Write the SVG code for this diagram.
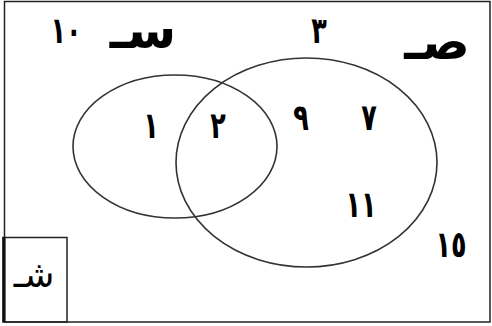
<svg xmlns="http://www.w3.org/2000/svg" width="492" height="326" viewBox="0 0 492 326">
<style>
.frame{fill:none;stroke:#222;stroke-width:1.5}
.set{fill:none;stroke:#333;stroke-width:1.6}
.num{font-family:"DejaVu Sans",sans-serif;font-size:34px;font-weight:bold;fill:#000;text-anchor:middle}
.wide{letter-spacing:6px}
.lbl{font-family:"DejaVu Sans",sans-serif;font-size:50px;font-weight:bold;fill:#000;text-anchor:middle}
.sh{font-family:"DejaVu Sans",sans-serif;font-size:36px;fill:#000;text-anchor:middle}
</style>
<rect width="492" height="326" fill="#fff"/>
<g id="universe">
<rect class="frame" x="4.5" y="1.5" width="485.5" height="320.5"/>
</g>
<g id="box-sh">
<rect class="frame" x="3" y="237.5" width="64" height="84.5"/>
<line x1="4" y1="237" x2="4" y2="322" stroke="#111" stroke-width="3"/>
<text class="sh" x="34" y="287" direction="rtl">شـ</text>
</g>
<g id="set-s">
<ellipse class="set" cx="175" cy="146.5" rx="102" ry="71.5"/>
<text class="lbl" x="143" y="48" direction="rtl">سـ</text>
</g>
<g id="set-sad">
<ellipse class="set" cx="306.5" cy="162.5" rx="130.5" ry="104.5"/>
<text class="lbl" x="437" y="59" direction="rtl">صـ</text>
</g>
<g id="numbers">
<text class="num wide" transform="translate(66,43) scale(0.75,1.08)">١٠</text>
<text class="num" transform="translate(319,43) scale(0.75,1.08)">٣</text>
<text class="num" transform="translate(151,138) scale(0.75,1.08)">١</text>
<text class="num" transform="translate(218,138) scale(0.75,1.08)">٢</text>
<text class="num" transform="translate(301,130) scale(0.75,1.08)">٩</text>
<text class="num" transform="translate(369,130) scale(0.75,1.08)">٧</text>
<text class="num wide" transform="translate(361,217) scale(0.75,1.08)">١١</text>
<text class="num wide" transform="translate(451,257) scale(0.75,1.08)">١٥</text>
</g>
</svg>
